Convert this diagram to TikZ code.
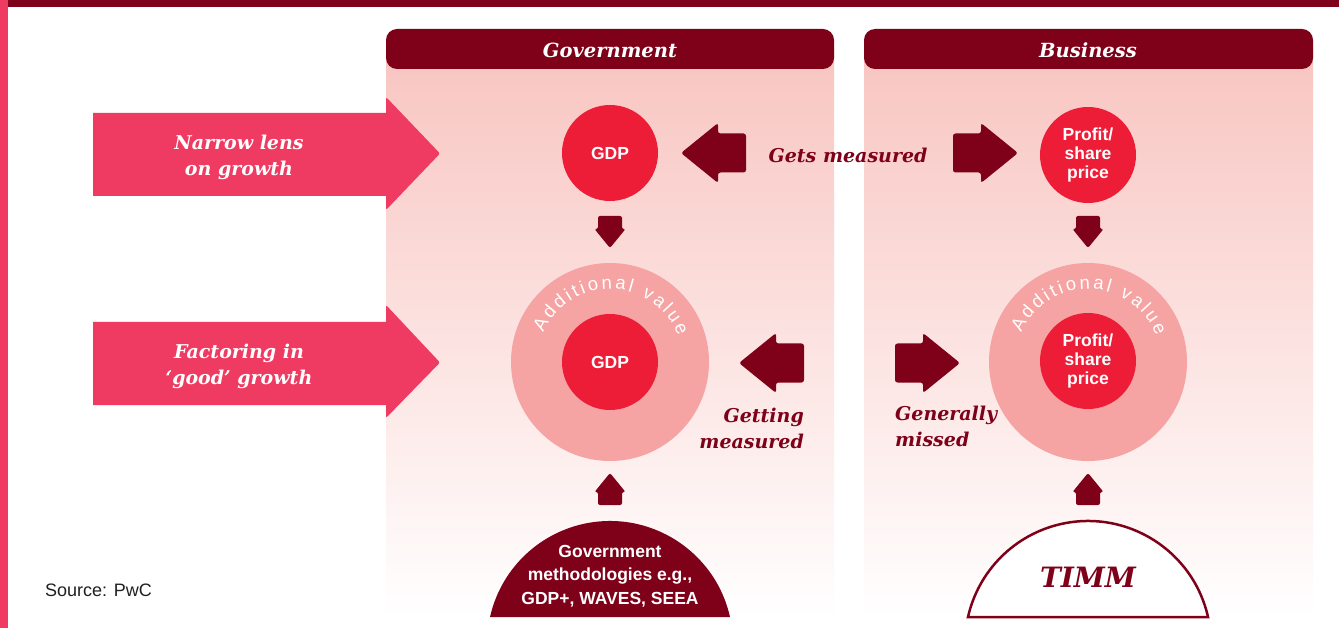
\documentclass[tikz,border=0pt]{standalone}
\usepackage{fontspec}
\setmainfont{DejaVu Serif}
\setsansfont{Liberation Sans}
\usetikzlibrary{decorations.text}
\definecolor{dred}{HTML}{7F0019}
\definecolor{pinkar}{HTML}{EF3B62}
\definecolor{redc}{HTML}{ED1C37}
\definecolor{ringc}{HTML}{F5A3A3}
\definecolor{paneltop}{HTML}{F8C5C1}
\definecolor{srcgray}{HTML}{231F20}
\tikzset{
  panel/.style={top color=paneltop, bottom color=white, draw=none},
  header/.style={fill=dred, rounded corners=11pt},
  hdrtext/.style={text=white, inner sep=0pt, font=\fontsize{19.5}{22}\selectfont\bfseries\itshape},
  lensarr/.style={fill=pinkar},
  lenstext/.style={text=white, inner sep=0pt, align=center, font=\fontsize{19}{26}\selectfont\bfseries\itshape},
  redcirc/.style={circle, fill=redc, minimum size=96pt, inner sep=0pt, text=white, align=center, font=\sffamily\bfseries\fontsize{17.5}{19}\selectfont},
  ringcirc/.style={circle, fill=ringc, minimum size=198pt, inner sep=0pt},
  measlabel/.style={text=dred, inner sep=0pt, font=\fontsize{19}{26}\selectfont\bfseries\itshape},
  ringtext/.style={decorate, decoration={text along path, text={|\sffamily\fontsize{18.5}{18.5}\selectfont|Additional value}, text align={fit to path}, text color=white}},
  pics/bigarr/.style={code={\fill[dred, rounded corners=2.5pt] (0,0) -- (-37,-30) -- (-37,-19.5) -- (-65,-19.5) -- (-65,19.5) -- (-37,19.5) -- (-37,30) -- cycle;}},
  pics/smallarr/.style={code={\fill[dred, rounded corners=2pt] (0,0) -- (15.5,-19) -- (12,-19) -- (12,-32) -- (-12,-32) -- (-12,-19) -- (-15.5,-19) -- cycle;}},
}
\begin{document}
\begin{tikzpicture}[x=1pt,y=-1pt]
\useasboundingbox (0,0) rectangle (1339,628);
\fill[white] (0,0) rectangle (1339,628);
% bars
\fill[dred] (0,0) rectangle (1339,7);
\fill[pinkar] (0,0) rectangle (8,628);
% panels
\fill[panel] (386,50) rectangle (834,617);
\fill[panel] (864,50) rectangle (1313,617);
\fill[header] (386,29) rectangle (834,69);
\fill[header] (864,29) rectangle (1313,69);
\node[hdrtext] (govh) at (610,50.5) {Government};
\node[hdrtext] (bush) at (1088,50.5) {Business};
% lens arrows
\fill[lensarr] (93,113) -- (386,113) [rounded corners=2pt] -- (386,97) -- (440,153.5) -- (386,210) [sharp corners] -- (386,196) -- (93,196) -- cycle;
\node[lenstext] (lens1) at (239,157) {Narrow lens\\on growth};
\fill[lensarr] (93,322) -- (386,322) [rounded corners=2pt] -- (386,305) -- (440,362.5) -- (386,418) [sharp corners] -- (386,405) -- (93,405) -- cycle;
\node[lenstext] (lens2) at (239,366) {Factoring in\\‘good’ growth};
% top circles
\node[redcirc] (gdp1) at (610,153) {GDP};
\node[redcirc] (prof1) at (1088,155) {Profit/\\share\\price};
% rings
\node[ringcirc] (ring1) at (610,362) {};
\node[ringcirc] (ring2) at (1088,362) {};
\path[ringtext] (ring1.center) ++(204:73) arc[start angle=204, end angle=339, radius=73];
\path[ringtext] (ring2.center) ++(204:73) arc[start angle=204, end angle=339, radius=73];
\node[redcirc] (gdp2) at (610,362) {GDP};
\node[redcirc] (prof2) at (1088,361) {Profit/\\share\\price};
% horizontal arrows and labels
\pic[rotate=180] at (681,153) {bigarr};
\pic at (1018,153) {bigarr};
\node[measlabel] (gm) at (848,155) {Gets measured};
\pic[rotate=180] at (739,363) {bigarr};
\pic at (960,363) {bigarr};
\node[measlabel, align=right, anchor=east] (gtm) at (804,428) {Getting\\measured};
\node[measlabel, align=left, anchor=west] (gnm) at (895,426) {Generally\\missed};
% vertical arrows
\pic at (610,248) {smallarr};
\pic at (1088,248) {smallarr};
\pic[rotate=180] at (610,473) {smallarr};
\pic[rotate=180] at (1088,473) {smallarr};
% bottom domes
\fill[dred] (730,617) arc[start angle=-12.68, end angle=-167.32, radius=123] -- cycle;
\node[text=white, inner sep=0pt, align=center, font=\sffamily\bfseries\fontsize{17.5}{23.5}\selectfont] (govm) at (610,576) {Government\\methodologies e.g.,\\GDP+, WAVES, SEEA};
\draw[dred, line width=2.5pt, fill=white] (1208,617) arc[start angle=-12.68, end angle=-167.32, radius=123] -- cycle;
\node[text=dred, inner sep=0pt, font=\fontsize{28}{30}\selectfont\bfseries\itshape] (timm) at (1088,577) {TIMM};
% source
\node[anchor=base west, inner sep=0pt, font=\sffamily\fontsize{18}{20}\selectfont, text=srcgray] (src) at (45,596) {Source: PwC};
\end{tikzpicture}
\end{document}
